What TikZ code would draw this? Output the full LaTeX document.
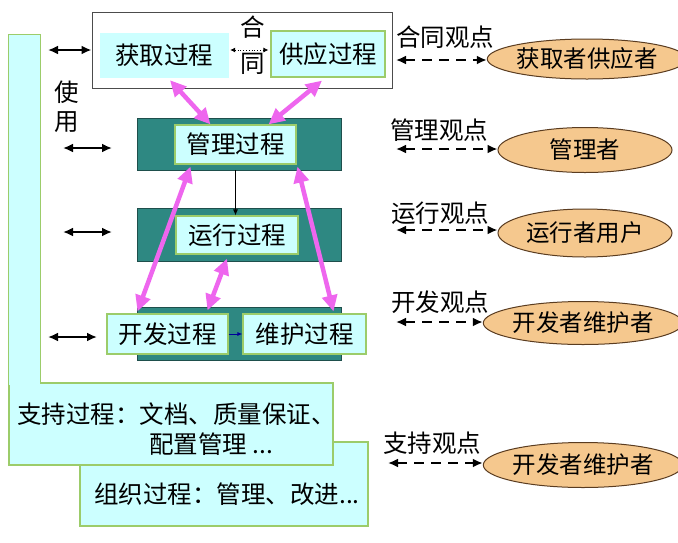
\documentclass[tikz,border=0pt]{standalone}
\usepackage{fontspec}
\setmainfont{Noto Sans CJK SC}
\usetikzlibrary{arrows.meta,shapes.geometric,calc}
\definecolor{cyanfill}{HTML}{CCFFFF}
\definecolor{greenline}{HTML}{9CCC6A}
\definecolor{tealbar}{HTML}{2E8882}
\definecolor{tealline}{HTML}{1E4F4C}
\definecolor{mag}{HTML}{EE66EE}
\definecolor{ellfill}{HTML}{F5C88E}
\definecolor{ellline}{HTML}{5A3C20}
\tikzset{
  txt/.style={font=\fontsize{24.5}{30}\selectfont},
  proc/.style={draw=greenline, line width=1.2pt, fill=cyanfill, inner sep=0pt, txt},
  bar/.style={draw=tealline, line width=0.8pt, fill=tealbar, inner sep=0pt, minimum width=204pt},
  role/.style={ellipse, draw=ellline, line width=1pt, fill=ellfill, inner sep=0pt, font=\fontsize{23.5}{28}\selectfont},
  view/.style={txt, inner sep=0pt},
  dash arrow/.style={line width=2.4pt, dash pattern=on 10pt off 7pt, {Latex[length=10pt,width=9pt]}-{Latex[length=10pt,width=9pt]}, shorten <=1pt},
  use arrow/.style={line width=2.2pt, {Latex[length=10pt,width=9pt]}-{Latex[length=10pt,width=9pt]}},
  mag arrow/.style={draw=mag, line width=4.5pt, {Triangle[length=16pt,width=15pt]}-{Triangle[length=16pt,width=15pt]}, mag},
}
\begin{document}
\begin{tikzpicture}[x=1pt,y=-1pt]
\useasboundingbox (0,0) rectangle (678,542);
\fill[white] (0,0) rectangle (678,542);

% top box
\node[draw=black!70, line width=1pt, fill=white, minimum width=300pt, minimum height=76pt] (topbox) at (242,50) {};
\node[fill=cyanfill, draw=cyanfill, inner sep=0pt, minimum width=128pt, minimum height=44pt, txt] (acq) at (164,55) {获取过程};
\node[proc, minimum width=114pt, minimum height=46pt] (sup) at (328,54) {供应过程};
\node[txt, inner sep=0pt] (he) at (253,27) {合};
\node[txt, inner sep=0pt] (tong) at (253,64) {同};
\draw[line width=0.8pt, dotted, {Latex[length=5pt,width=5pt]}-{Latex[length=5pt,width=5pt]}] ($(acq.east)+(2,-5)$) -- ($(sup.west)+(-2,-4)$);

% bars
\node[bar, minimum height=52pt] (mbar) at (239,144) {};
\node[bar, minimum height=53pt] (rbar) at (239,234.5) {};
\node[bar, minimum height=53pt] (dbar) at (239,333.5) {};
\node[proc, minimum width=121pt, minimum height=39pt] (mgmt) at (235.5,144.5) {管理过程};
\node[proc, minimum width=122pt, minimum height=38pt] (run) at (237,235) {运行过程};
\node[proc, minimum width=121pt, minimum height=40pt] (dev) at (167.5,334) {开发过程};
\node[proc, minimum width=123pt, minimum height=40pt] (maint) at (304.5,334) {维护过程};
\draw[line width=0.8pt, -{Latex[length=6pt,width=5pt]}] (mgmt.south |- mbar.south) -- (mgmt.south |- run.north);
\draw[draw=blue!60!black, line width=0.8pt, -{Latex[length=5pt,width=4pt]}] (dev.east) -- (maint.west);

% magenta arrows
\draw[mag arrow] ($(acq.south)+(6,3)$) -- ($(mgmt.north)+(-25,0)$);
\draw[mag arrow] ($(sup.south)+(-6,3)$) -- ($(mgmt.north)+(33,0)$);
\draw[mag arrow] ($(mgmt.south)+(-45,2)$) -- ($(dev.north)+(-30,-2)$);
\draw[mag arrow] ($(mgmt.south)+(62,2)$) -- ($(maint.north)+(29,-2)$);
\draw[mag arrow] ($(run.south)+(-10,4)$) -- ($(dev.north)+(40,-3)$);

% support / organisation boxes and left bar
\node[proc, minimum width=288pt, minimum height=84pt, anchor=center] (org) at (224,484) {};
\node[txt, anchor=west, inner sep=0pt] (orgtxt) at (94,494) {组织过程：管理、改进...};
\node[proc, minimum width=324pt, minimum height=82pt] (supp) at (171,424) {};
\node[txt, anchor=west, inner sep=0pt, align=left] (supptxt) at (17,429) {支持过程：文档、质量保证、\\\hspace*{5.4em}配置管理 ...};
\node[fill=cyanfill, draw=none, inner sep=0pt, minimum width=31pt, minimum height=350pt] (lbar) at (24.5,209.5) {};
\draw[greenline, line width=1.2pt] (lbar.south west) -- (lbar.north west) -- (lbar.north east) -- ($(lbar.south east)+(0,-1)$);

% use labels and arrows
\node[txt, inner sep=0pt] (shi) at (67,92) {使};
\node[txt, inner sep=0pt] (yong) at (67,122) {用};
\coordinate (u1) at (48,50);
\coordinate (u2a) at (63,148); \coordinate (u2b) at (112,148);
\coordinate (u3a) at (63,232); \coordinate (u3b) at (112,232);
\coordinate (u4a) at (48,337); \coordinate (u4b) at (97,337);
\draw[use arrow] (u1) -- (topbox.west);
\draw[use arrow] (u2a) -- (u2b);
\draw[use arrow] (u3a) -- (u3b);
\draw[use arrow] (u4a) -- (u4b);

% roles
\node[role, minimum width=177pt, minimum height=40pt] (e1) at (587,59) {获取者供应者};
\node[role, minimum width=174pt, minimum height=45pt] (e2) at (585,150) {管理者};
\node[role, minimum width=174pt, minimum height=48pt] (e3) at (585,233) {运行者用户};
\node[role, minimum width=169pt, minimum height=43pt] (e4) at (583,323) {开发者维护者};
\node[role, minimum width=169pt, minimum height=45pt] (e5) at (583,465) {开发者维护者};

\node[view] (v1) at (445,37) {合同观点};
\node[view] (v2) at (439,130) {管理观点};
\node[view] (v3) at (440,213) {运行观点};
\node[view] (v4) at (440,302) {开发观点};
\node[view] (v5) at (432,443) {支持观点};

\coordinate (d1) at (395,60);
\coordinate (d2) at (395,149);
\coordinate (d3) at (395,230);
\coordinate (d4) at (395,322);
\coordinate (d5) at (387,463);
\draw[dash arrow] (d1) -- (d1 -| e1.west);
\draw[dash arrow] (d2) -- (d2 -| e2.west);
\draw[dash arrow] (d3) -- (d3 -| e3.west);
\draw[dash arrow] (d4) -- (d4 -| e4.west);
\draw[dash arrow] (d5) -- (d5 -| e5.west);
\end{tikzpicture}
\end{document}
